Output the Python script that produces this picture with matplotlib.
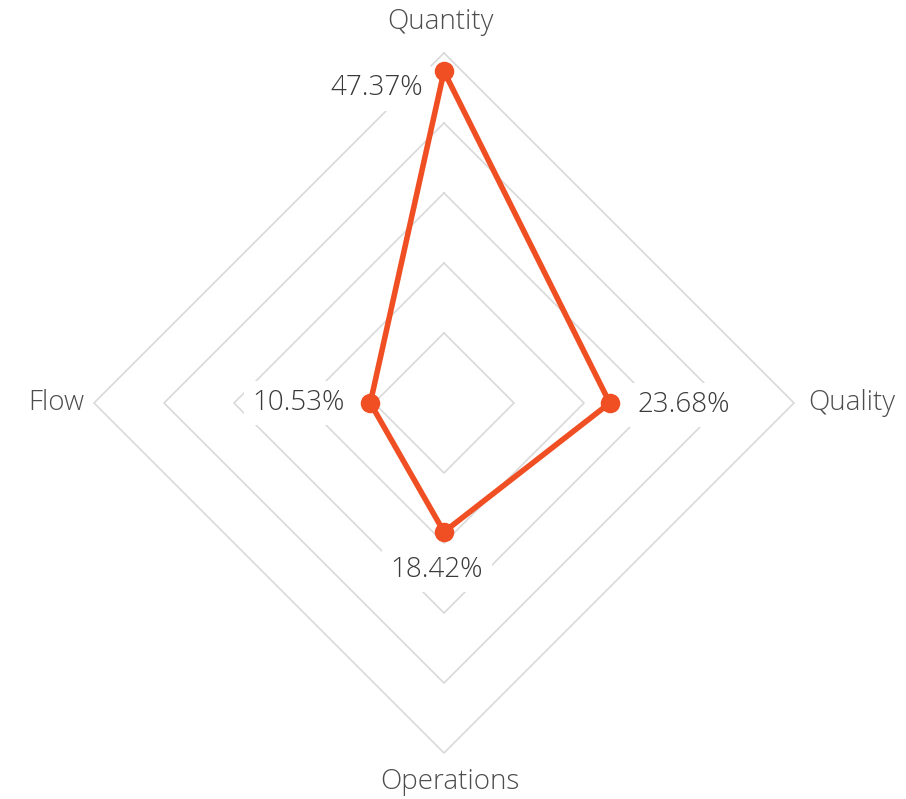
import numpy as np
import matplotlib.pyplot as plt

plt.rcParams['font.family'] = ['Open Sans', 'DejaVu Sans']

categories = ["Quantity", "Quality", "Operations", "Flow"]
values = [47.37, 23.68, 18.42, 10.53]
value_labels = ["47.37%", "23.68%", "18.42%", "10.53%"]
rings = [10, 20, 30, 40, 50]

line_color = "#F04E23"
grid_color = "#d9d9d9"
text_color = "#4d4d4d"

# angles: Quantity up, then clockwise
angles = np.pi / 2 - np.arange(len(categories)) * np.pi / 2

W, H, dpi = 906, 799, 100
cx, cy = 444, 403
scale = 7.0  # px per unit

fig = plt.figure(figsize=(W / dpi, H / dpi), dpi=dpi)
ax = fig.add_axes([0, 0, 1, 1])
ax.set_xlim(-cx / scale, (W - cx) / scale)
ax.set_ylim(-(H - cy) / scale, cy / scale)
ax.set_aspect('equal')
ax.axis('off')

# grid rings
for r in rings:
    xs = np.append(r * np.cos(angles), r * np.cos(angles[0]))
    ys = np.append(r * np.sin(angles), r * np.sin(angles[0]))
    ax.plot(xs, ys, color=grid_color, lw=1.2, zorder=1)

# data polygon
vx = np.array(values) * np.cos(angles)
vy = np.array(values) * np.sin(angles)
ax.plot(np.append(vx, vx[0]), np.append(vy, vy[0]), color=line_color,
        lw=4, zorder=3, solid_joinstyle='round')
ax.scatter(vx, vy, s=170, color=line_color, zorder=4)

# value labels (offsets in px)
offsets = [(-21, -17, 'right'), (28, -2, 'left'), (-7, -38, 'center'), (-26, 0, 'right')]
for x, y, lab, (dx, dy, ha) in zip(vx, vy, value_labels, offsets):
    ax.text(x + dx / scale, y + dy / scale, lab, ha=ha, va='center',
            fontsize=20, color="#3a3a3a", zorder=5, fontweight='light',
            bbox=dict(boxstyle='square,pad=0.3', fc='white', ec='none'))

# axis labels
lab_kw = dict(fontsize=20, color=text_color, fontweight='light')
ax.text(-3 / scale, (cy - 22) / scale, "Quantity", ha='center', va='center', **lab_kw)
ax.text((808 - cx) / scale, 0, "Quality", ha='left', va='center', **lab_kw)
ax.text(6 / scale, -(782 - cy) / scale, "Operations", ha='center', va='center', **lab_kw)
ax.text((84 - cx) / scale, 0, "Flow", ha='right', va='center', **lab_kw)

fig.savefig("out.png", dpi=dpi)
